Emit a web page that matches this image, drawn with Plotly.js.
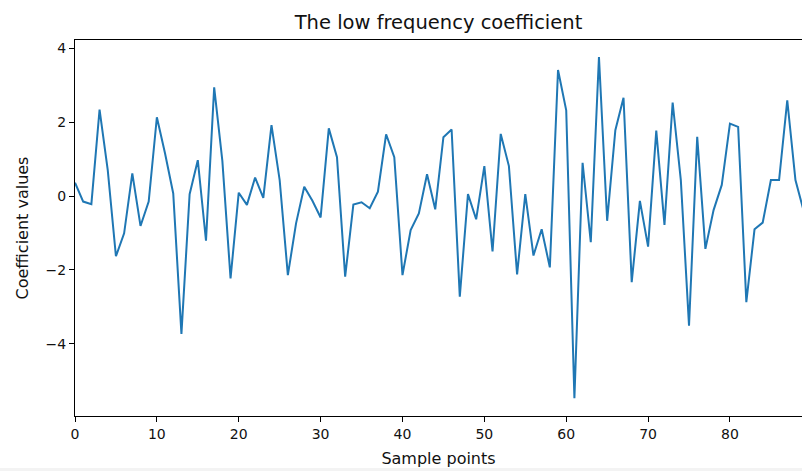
<!DOCTYPE html>
<html>
<head>
<meta charset="utf-8">
<script src="https://cdn.plot.ly/plotly-3.0.1.min.js"></script>
<style>html,body{margin:0;padding:0;background:#fff;}#chart{width:802px;height:471px;}</style>
</head>
<body>
<div id="chart"></div>
<script>
const sampleIndex = [];
const coefficientValues = [
  0.36, -0.15, -0.22, 2.34, 0.70, -1.63, -1.01, 0.61, -0.81, -0.15,
  2.13, 1.15, 0.07, -3.73, 0.05, 0.97, -1.21, 2.94, 0.95, -2.23,
  0.09, -0.24, 0.50, -0.05, 1.92, 0.43, -2.14, -0.74, 0.25, -0.13,
  -0.58, 1.83, 1.05, -2.18, -0.23, -0.17, -0.33, 0.12, 1.67, 1.05,
  -2.14, -0.92, -0.47, 0.59, -0.36, 1.59, 1.80, -2.72, 0.05, -0.63,
  0.81, -1.50, 1.68, 0.81, -2.12, 0.05, -1.61, -0.90, -1.93, 3.41,
  2.32, -5.47, 0.90, -1.25, 3.76, -0.67, 1.78, 2.66, -2.33, -0.13,
  -1.37, 1.77, -0.78, 2.53, 0.43, -3.51, 1.60, -1.43, -0.38, 0.30,
  1.96, 1.87, -2.87, -0.90, -0.72, 0.43, 0.43, 2.59, 0.43, -0.40
];
for (let i = 0; i < coefficientValues.length; i++) sampleIndex.push(i);
const xTicks = [0, 10, 20, 30, 40, 50, 60, 70, 80];
const yTicks = [-4, -2, 0, 2, 4];

const tickFont = {family: 'DejaVu Sans, sans-serif', size: 14, color: '#111'};
const labelFont = {family: 'DejaVu Sans, sans-serif', size: 16, color: '#111'};

Plotly.newPlot('chart', [{
  x: sampleIndex,
  y: coefficientValues,
  type: 'scatter',
  mode: 'lines',
  line: {color: '#1f77b4', width: 2},
  hoverinfo: 'skip'
}], {
  width: 802,
  height: 471,
  margin: {l: 75, r: 0, t: 40, b: 55},
  paper_bgcolor: '#fff',
  plot_bgcolor: '#fff',
  font: tickFont,
  showlegend: false,
  title: {text: 'The low frequency coefficient', font: {family: 'DejaVu Sans, sans-serif', size: 19.5, color: '#111'}, x: 0.5, xref: 'paper', xanchor: 'center', y: 0.953, yref: 'container', yanchor: 'middle'},
  xaxis: {
    range: [0, 88.8],
    tickvals: xTicks,
    ticktext: xTicks.map(String),
    ticks: 'outside', ticklen: 5, tickwidth: 1, tickcolor: '#000',
    showgrid: false, zeroline: false,
    showline: true, linecolor: '#000', linewidth: 1, mirror: true,
    tickfont: tickFont,
    title: {text: 'Sample points', font: labelFont, standoff: 12}
  },
  yaxis: {
    range: [-5.95, 4.22],
    tickvals: yTicks,
    ticktext: yTicks.map(v => v < 0 ? '\u2212' + Math.abs(v) : String(v)),
    ticks: 'outside', ticklen: 5, tickwidth: 1, tickcolor: '#000',
    showgrid: false, zeroline: false,
    showline: true, linecolor: '#000', linewidth: 1, mirror: false,
    tickfont: tickFont,
    title: {text: 'Coefficient values', font: labelFont, standoff: 12}
  },
  shapes: [{
    type: 'rect', xref: 'paper', yref: 'paper',
    x0: -0.2, x1: 1.0, y0: -0.146, y1: -0.138,
    fillcolor: '#f3f3f3', line: {width: 0}, layer: 'below'
  }]
}, {displayModeBar: false, staticPlot: true});
</script>
</body>
</html>
